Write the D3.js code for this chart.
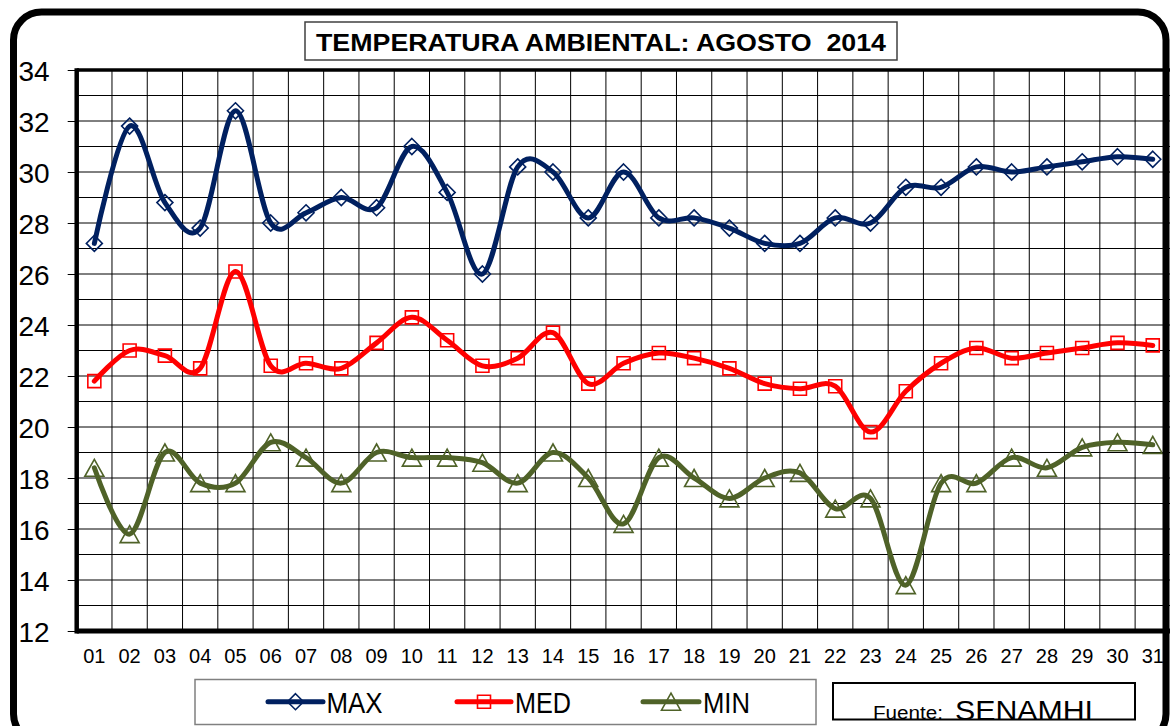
<!DOCTYPE html>
<html><head><meta charset="utf-8">
<script src="https://cdn.jsdelivr.net/npm/d3@7"></script>
<style>body{margin:0;background:#fff;}svg{display:block;font-family:"Liberation Sans",Arial,sans-serif;}</style>
</head><body>
<svg id="c" width="1170" height="726"></svg>
<script>
const days = ["01","02","03","04","05","06","07","08","09","10","11","12","13","14","15","16","17","18","19","20","21","22","23","24","25","26","27","28","29","30","31"];
const maxT = [27.2,31.8,28.8,27.8,32.4,28.0,28.4,29.0,28.6,31.0,29.2,26.0,30.2,30.0,28.2,30.0,28.2,28.2,27.8,27.2,27.2,28.2,28.0,29.4,29.4,30.2,30.0,30.2,30.4,30.6,30.5];
const medT = [21.8,23.0,22.8,22.3,26.1,22.4,22.5,22.3,23.3,24.3,23.4,22.4,22.7,23.7,21.7,22.5,22.9,22.7,22.3,21.7,21.5,21.6,19.8,21.4,22.5,23.1,22.7,22.9,23.1,23.3,23.2];
const minT = [18.4,15.8,19.0,17.8,17.8,19.4,18.8,17.8,19.0,18.8,18.8,18.6,17.8,19.0,18.0,16.2,18.8,18.0,17.2,18.0,18.2,16.8,17.2,13.8,17.8,17.8,18.8,18.4,19.2,19.4,19.3];
const yTicks = [12,14,16,18,20,22,24,26,28,30,32,34];
const seriesNames = ["MAX","MED","MIN"];
const title = "TEMPERATURA AMBIENTAL: AGOSTO  2014";
const sourceLabel = "Fuente:";
const sourceName = "SENAMHI";

const colors = {MAX:"#002060", MED:"#FF0000", MIN:"#4F6228"};
const series = [
  {name:"MAX", values:maxT, shape:"diamond"},
  {name:"MED", values:medT, shape:"square"},
  {name:"MIN", values:minT, shape:"triangle"}
];

const svg = d3.select("#c");
const L = 76.7, R = 1170.4, T = 70, B = 631;
const x = d3.scaleBand().domain(days).range([L, R]).padding(0);
const y = d3.scaleLinear().domain([12, 34]).range([B, T]);
const cx = d => x(d) + x.bandwidth()/2;

function markerPath(shape, px, py) {
  if (shape === "diamond") { const w=8, h=8; return `M${px},${py-h}L${px+w},${py}L${px},${py+h}L${px-w},${py}Z`; }
  if (shape === "square") { const s=6.5; return `M${px-s},${py-s}H${px+s}V${py+s}H${px-s}Z`; }
  const w=9.5, h=8.5; return `M${px},${py-h}L${px+w},${py+h}L${px-w},${py+h}Z`;
}

// gridlines
const grid = svg.append("g");
grid.selectAll("line.h").data(d3.range(13, 34)).join("line")
  .attr("x1", L).attr("x2", R).attr("y1", d=>y(d)).attr("y2", d=>y(d))
  .attr("stroke", "#000").attr("stroke-width", 1);
grid.selectAll("line.v").data(days.slice(1)).join("line")
  .attr("x1", d=>x(d)).attr("x2", d=>x(d)).attr("y1", T).attr("y2", B)
  .attr("stroke", "#000").attr("stroke-width", 1);

// y axis
const yAxis = svg.append("g").attr("transform", `translate(${L},0)`)
  .call(d3.axisLeft(y).tickValues(yTicks).tickSize(9).tickPadding(18).tickFormat(d3.format("d")));
yAxis.select(".domain").remove();
yAxis.selectAll(".tick line").attr("stroke", "#000");
yAxis.selectAll(".tick text").attr("font-size", 28).attr("fill", "#000")
  .attr("font-family", '"Liberation Sans",Arial,sans-serif').attr("dy", "0.36em");

// x axis
const xAxis = svg.append("g").attr("transform", `translate(0,${B})`)
  .call(d3.axisBottom(x).tickSize(0).tickPadding(18));
xAxis.select(".domain").remove();
xAxis.selectAll(".tick text").attr("font-size", 20).attr("fill", "#000")
  .attr("font-family", '"Liberation Sans",Arial,sans-serif');

// plot frame
svg.append("line").attr("x1", L).attr("x2", R).attr("y1", T).attr("y2", T).attr("stroke", "#000").attr("stroke-width", 3.5);
svg.append("line").attr("x1", L).attr("x2", R).attr("y1", B).attr("y2", B).attr("stroke", "#000").attr("stroke-width", 5);
svg.append("line").attr("x1", L).attr("x2", L).attr("y1", T-1.7).attr("y2", B+2.5).attr("stroke", "#000").attr("stroke-width", 4.5);

// lines
const line = d3.line().x((v,i)=>cx(days[i])).y(v=>y(v)).curve(d3.curveCardinal.tension(0));
series.forEach(s => {
  svg.append("path").attr("d", line(s.values)).attr("fill", "none")
    .attr("stroke", colors[s.name]).attr("stroke-width", 5).attr("stroke-linejoin", "round").attr("stroke-linecap", "round");
  svg.append("g").selectAll("path").data(s.values).join("path")
    .attr("d", (v,i)=>markerPath(s.shape, cx(days[i]), y(v)))
    .attr("fill", "none").attr("stroke", colors[s.name]).attr("stroke-width", 1.6);
});

// title
svg.append("rect").attr("x", 305).attr("y", 22).attr("width", 592).attr("height", 38)
  .attr("fill", "#fff").attr("stroke", "#404040").attr("stroke-width", 1.5);
svg.append("text").attr("x", 316).attr("y", 51).attr("font-size", 24).attr("font-weight", "bold")
  .style("white-space", "pre").attr("xml:space", "preserve")
  .attr("textLength", 570).attr("lengthAdjust", "spacingAndGlyphs").text(title);

// legend
svg.append("rect").attr("x", 195).attr("y", 679.5).attr("width", 621).attr("height", 45)
  .attr("fill", "#fff").attr("stroke", "#808080").attr("stroke-width", 1.5);
const legX = [{l:268, r:323, t:326.5, w:56}, {l:457, r:511, t:515, w:56}, {l:643, r:699, t:703, w:47}];
series.forEach((s, i) => {
  const p = legX[i], ly = 701.7;
  svg.append("line").attr("x1", p.l).attr("x2", p.r).attr("y1", ly).attr("y2", ly)
    .attr("stroke", colors[s.name]).attr("stroke-width", 5).attr("stroke-linecap", "round");
  svg.append("path").attr("d", markerPath(s.shape, (p.l+p.r)/2, ly)).attr("fill", "none")
    .attr("stroke", colors[s.name]).attr("stroke-width", 1.6);
  svg.append("text").attr("x", p.t).attr("y", 712.7).attr("font-size", 30)
    .attr("textLength", p.w).attr("lengthAdjust", "spacingAndGlyphs").text(s.name);
});

// source box
svg.append("text").attr("x", 873).attr("y", 718.5).attr("font-size", 18)
  .attr("textLength", 70).attr("lengthAdjust", "spacingAndGlyphs").text(sourceLabel);
svg.append("text").attr("x", 955).attr("y", 719.5).attr("font-size", 27)
  .attr("textLength", 138).attr("lengthAdjust", "spacingAndGlyphs").text(sourceName);
svg.append("rect").attr("x", 833).attr("y", 683).attr("width", 302).attr("height", 36.5)
  .attr("fill", "none").attr("stroke", "#000").attr("stroke-width", 2);

// outer rounded border
svg.append("rect").attr("x", 13.5).attr("y", 12).attr("width", 1166-13.5).attr("height", 730)
  .attr("rx", 28).attr("ry", 28).attr("fill", "none").attr("stroke", "#000").attr("stroke-width", 7);
</script>
</body></html>
